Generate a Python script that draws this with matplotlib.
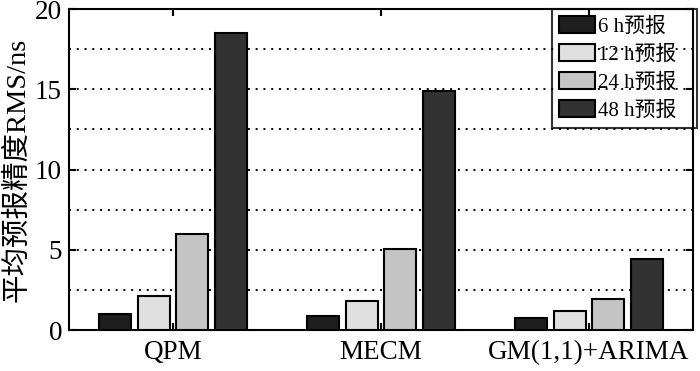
import numpy as np
import matplotlib
matplotlib.use("Agg")
import matplotlib.pyplot as plt
from matplotlib.ticker import MultipleLocator

categories = ["QPM", "MECM", "GM(1,1)+ARIMA"]
series_names = ["6 h预报", "12 h预报", "24 h预报", "48 h预报"]
v6 = [1.0, 0.89, 0.75]
v12 = [2.14, 1.81, 1.17]
v24 = [5.98, 5.04, 1.94]
v48 = [18.5, 14.9, 4.42]
series = [v6, v12, v24, v48]
colors = ["#1e1e1e", "#e0e0e0", "#c4c4c4", "#323232"]

fam = ["Liberation Serif", "Noto Sans CJK SC", "DejaVu Sans"]
plt.rcParams["font.family"] = fam

fig = plt.figure(figsize=(7.0, 3.71), dpi=100)
ax = fig.add_axes([0.0986, 0.1105, 0.8914, 0.8652])

x = np.arange(1, len(categories) + 1)
step = 0.185
width = 0.155
for i, (vals, name, c) in enumerate(zip(series, series_names, colors)):
    ax.bar(x + (i - 1.5) * step, vals, width, color=c, edgecolor="black",
           linewidth=1.5, label=name, zorder=3)

ax.set_xlim(0.5, 3.5)
ax.set_ylim(0, 20)
ax.set_xticks(x)
ax.set_xticklabels(categories, fontsize=19.5)
ax.yaxis.set_major_locator(MultipleLocator(5))
ax.yaxis.set_minor_locator(MultipleLocator(2.5))
ax.tick_params(axis="y", which="major", labelsize=19.5, direction="in", right=True,
               length=5, width=1.5, pad=5)
ax.tick_params(axis="y", which="minor", direction="in", right=True, length=0)
ax.tick_params(axis="x", direction="in", top=True, length=5, width=1.5, pad=7)
ax.grid(axis="y", which="both", color="black", linestyle=(0, (1, 3)), linewidth=1.4, zorder=0)
ax.set_axisbelow(True)
for s in ax.spines.values():
    s.set_linewidth(1.5)

ax.set_ylabel("平均预报精度RMS/ns", fontsize=20.5, labelpad=3)

leg = ax.legend(loc="upper left", bbox_to_anchor=(0.774, 0.6, 0.232, 0.4), mode="expand",
                fontsize=15, frameon=True, fancybox=False, facecolor="none",
                edgecolor="black", borderaxespad=0.0, handlelength=1.7,
                handleheight=0.85, labelspacing=0.36, handletextpad=0.15,
                borderpad=0.35)
leg.get_frame().set_linewidth(1.5)

fig.savefig("out.png", dpi=100)
